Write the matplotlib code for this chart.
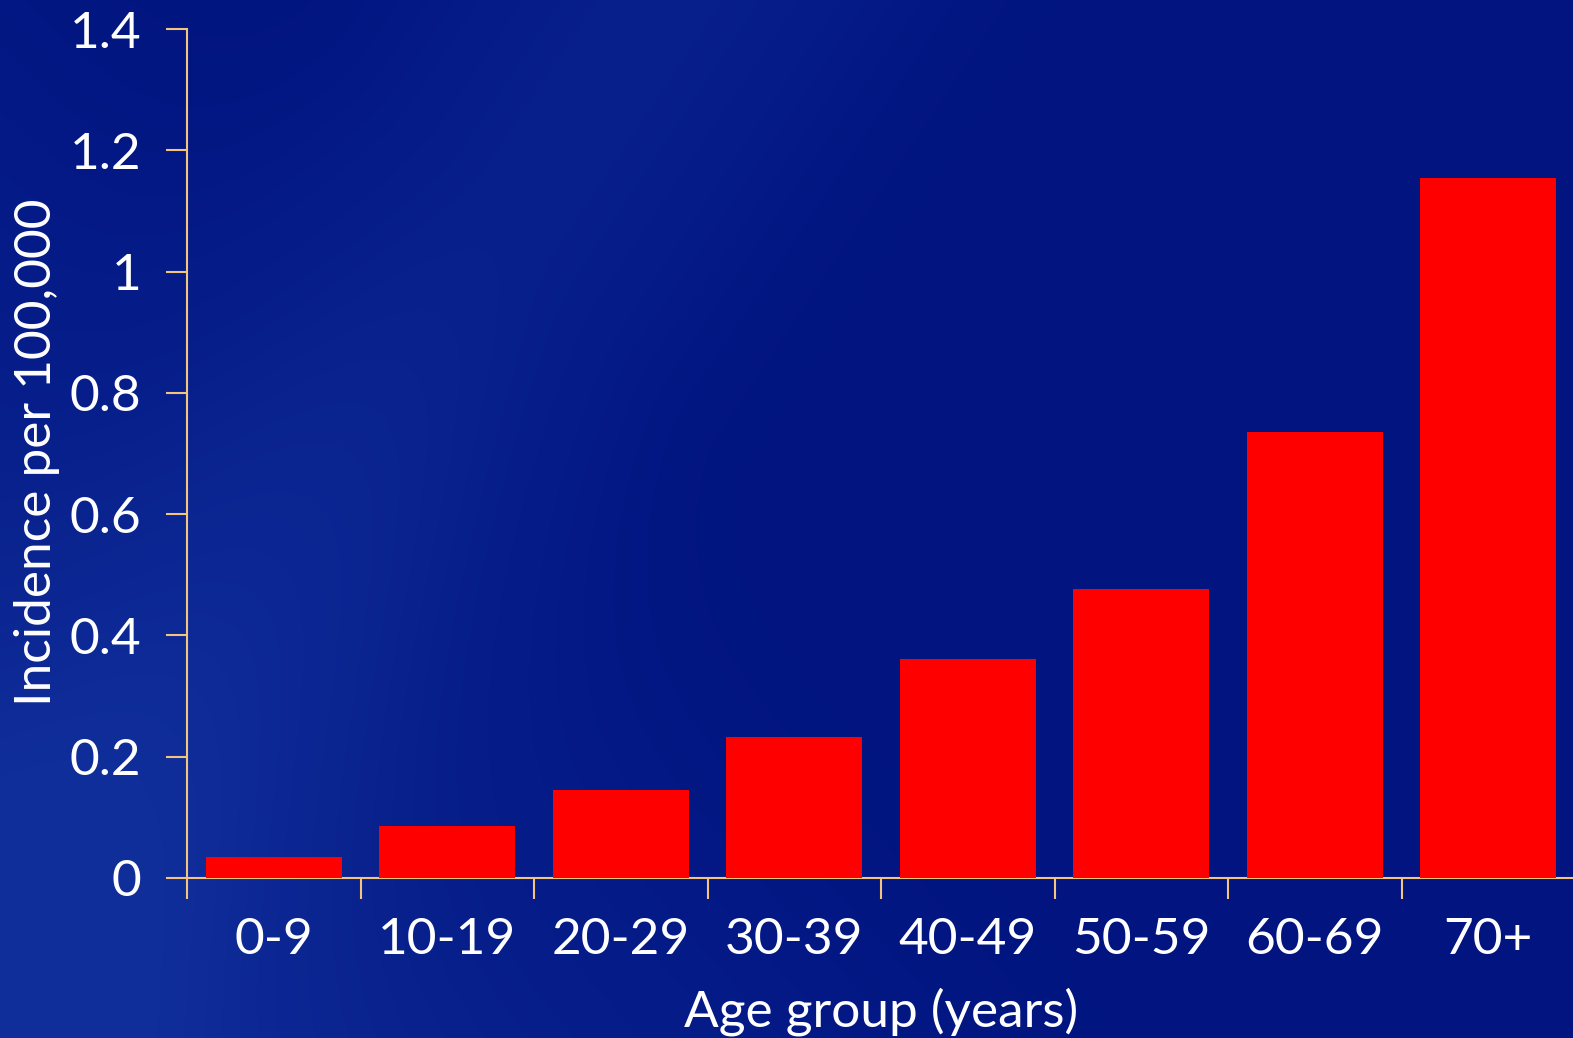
import numpy as np
import matplotlib
matplotlib.use("Agg")
import matplotlib.pyplot as plt
from matplotlib.ticker import FixedLocator, FuncFormatter

# data
age_groups = ["0-9", "10-19", "20-29", "30-39", "40-49", "50-59", "60-69", "70+"]
incidence = [0.035, 0.085, 0.145, 0.232, 0.361, 0.477, 0.735, 1.154]
y_ticks = [0, 0.2, 0.4, 0.6, 0.8, 1.0, 1.2, 1.4]

plt.rcParams["font.family"] = ["Lato", "DejaVu Sans"]
FS = 37

W, H = 1573, 1038
fig = plt.figure(figsize=(W / 100, H / 100), dpi=100)

# background: dark blue with soft lighter sweeps
bg = fig.add_axes([0, 0, 1, 1], zorder=-10)
bg.set_axis_off()
yy, xx = np.mgrid[0:1:H * 1j, 0:1:W * 1j]   # yy = 0 at top
base = np.array([1, 20, 128]) / 255.0
light = np.array([16, 46, 154]) / 255.0
# lighter toward the bottom-left corner
d1 = xx + (1 - yy) * 0.6
band1 = np.clip(1 - d1 / 0.8, 0, 1) ** 1.4
# diagonal sweep from top middle down to the left edge
xc = 0.42 * (1 - yy / 0.95)
band2 = np.exp(-((xx - xc) / 0.16) ** 2) * 0.45
t = np.clip(band1 * 0.9 + band2, 0, 1)[..., None]
img = base * (1 - t) + light * t
bg.imshow(img, extent=[0, 1, 0, 1], aspect="auto", origin="upper")

axis_col = "#f3c47f"
ax = fig.add_axes([187 / W, 1 - 878 / H, (1575 - 187) / W, (878 - 29) / H])
ax.patch.set_alpha(0)

x = np.arange(len(age_groups))
ax.bar(x, incidence, width=0.785, color="#ff0000", zorder=3)

ax.set_xlim(-0.5, len(age_groups) - 0.5)
ax.set_ylim(0, 1.4)

ax.xaxis.set_major_locator(FixedLocator(x))
ax.set_xticklabels(age_groups)
ax.xaxis.set_minor_locator(FixedLocator(np.arange(len(age_groups) + 1) - 0.5))
ax.tick_params(axis="x", which="major", length=0, pad=28, labelsize=FS, labelcolor="white")
ax.tick_params(axis="x", which="minor", length=15, width=1.5, color=axis_col, direction="out")

ax.set_yticks(y_ticks)
ax.yaxis.set_major_formatter(FuncFormatter(lambda v, p: f"{v:g}"))
ax.tick_params(axis="y", length=15, width=1.5, color=axis_col, pad=18,
               labelsize=FS, labelcolor="white", direction="out")

for s in ["top", "right"]:
    ax.spines[s].set_visible(False)
for s in ["left", "bottom"]:
    ax.spines[s].set_color(axis_col)
    ax.spines[s].set_linewidth(1.5)

fig.text(881 / W, 1 - 1027 / H, "Age group (years)", fontsize=FS, color="white",
         ha="center", va="baseline")
fig.text(37 / W, 1 - 452 / H, "Incidence per 100,000", fontsize=FS, color="white",
         ha="center", va="center", rotation=90)

fig.savefig("out.png", dpi=100)
